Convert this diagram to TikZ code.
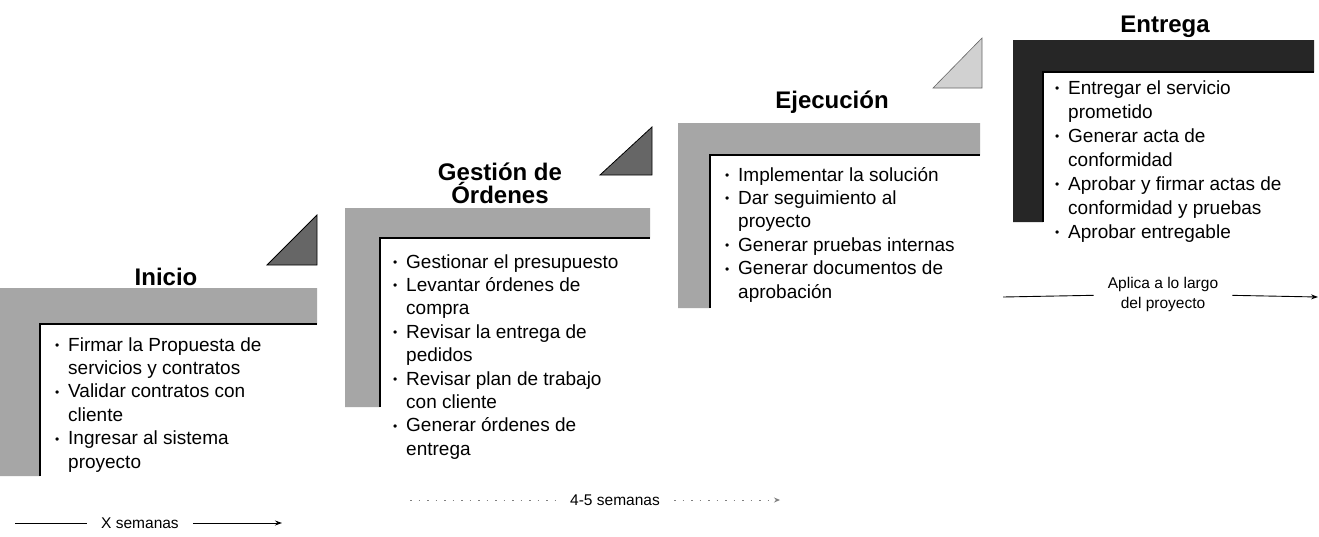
\documentclass[tikz,border=0pt]{standalone}
\usepackage{fontspec}
\setmainfont{Liberation Sans}
\usetikzlibrary{arrows.meta}
\newcommand\bu{\makebox[13pt][l]{\fontsize{12}{12}\selectfont\raisebox{1.5pt}{•}}}
\newcommand\cl{\hspace*{13pt}}
\newcommand\lst[1]{\parbox[t]{300pt}{\fontsize{19}{23.4}\selectfont\raggedright #1}}
\tikzset{
  bar/.style={fill=black!35, draw=none},
  darkbar/.style={fill=black!85, draw=none},
  inneredge/.style={draw=black, line width=1.6pt},
  tri/.style={fill=black!60, draw=black, line width=0.8pt},
  lighttri/.style={fill=black!18, draw=black!60, line width=0.6pt},
  title/.style={font=\fontsize{24}{24}\selectfont\bfseries, inner sep=0, anchor=base},
  list/.style={inner sep=0, anchor=base west},
  small/.style={font=\fontsize{15.5}{20}\selectfont, inner ysep=0, inner xsep=14pt},
  arr/.style={line width=0.9pt, -{Stealth[length=7pt,width=5pt]}},
}
\begin{document}
\begin{tikzpicture}[x=1pt,y=-1pt]
\useasboundingbox (0,0) rectangle (1319,536);
\fill[white] (0,0) rectangle (1319,536);

% ---- Inicio
\fill[bar] (0,288) -- (317,288) -- (317,324) -- (40,324) -- (40,476) -- (0,476) -- cycle;
\draw[inneredge] (317,324) -- (40,324) -- (40,476);
\filldraw[tri] (267,265) -- (317,265) -- (317,215) -- cycle;
\node[title] (t1) at (166,285) {Inicio};
\node[list] (l1) at (55,351) {\lst{\bu Firmar la Propuesta de\\ \cl servicios y contratos\\ \bu Validar contratos con\\ \cl cliente\\ \bu Ingresar al sistema\\ \cl proyecto}};

% ---- Gestion de Ordenes
\fill[bar] (345,208) -- (650,208) -- (650,238) -- (380,238) -- (380,407) -- (345,407) -- cycle;
\draw[inneredge] (650,238) -- (380,238) -- (380,407);
\filldraw[tri] (600,175) -- (652,175) -- (652,127) -- cycle;
\node[title] (t2) at (500,180) {\parbox[t]{220pt}{\centering\fontsize{24}{23}\selectfont\bfseries Gestión de\\Órdenes}};
\node[list] (l2) at (393,268) {\lst{\bu Gestionar el presupuesto\\ \bu Levantar órdenes de\\ \cl compra\\ \bu Revisar la entrega de\\ \cl pedidos\\ \bu Revisar plan de trabajo\\ \cl con cliente\\ \bu Generar órdenes de\\ \cl entrega}};

% ---- Ejecucion
\fill[bar] (678,123) -- (980,123) -- (980,155) -- (710,155) -- (710,308) -- (678,308) -- cycle;
\draw[inneredge] (980,155) -- (710,155) -- (710,308);
\filldraw[lighttri] (933,88) -- (982,88) -- (982,38) -- cycle;
\node[title] (t3) at (832,108) {Ejecución};
\node[list] (l3) at (725,181) {\lst{\bu Implementar la solución\\ \bu Dar seguimiento al\\ \cl proyecto\\ \bu Generar pruebas internas\\ \bu Generar documentos de\\ \cl aprobación}};

% ---- Entrega
\fill[darkbar] (1013,40) -- (1314,40) -- (1314,72) -- (1043,72) -- (1043,222) -- (1013,222) -- cycle;
\draw[inneredge] (1314,72) -- (1043,72) -- (1043,222);
\node[title] (t4) at (1165,32) {Entrega};
\node[list] (l4) at (1055,94) {\parbox[t]{300pt}{\fontsize{19}{24}\selectfont\raggedright \bu Entregar el servicio\\ \cl prometido\\ \bu Generar acta de\\ \cl conformidad\\ \bu Aprobar y firmar actas de\\ \cl conformidad y pruebas\\ \bu Aprobar entregable}};

% ---- time arrows
\node[small] (xs) at (140,523) {X semanas};
\coordinate (xa) at (15,523);
\coordinate (xb) at (282,523);
\draw[line width=0.9pt] (xa) -- (xs);
\draw[arr] (xs) -- (xb);

\node[small] (fs) at (615,500) {4-5 semanas};
\coordinate (fa) at (410,500);
\coordinate (fb) at (780,500);
\draw[black!50, line width=0.9pt, dash pattern=on 1.5pt off 7pt] (fa) -- (fs);
\draw[black!50, line width=0.9pt, dash pattern=on 1.5pt off 7pt, -{Stealth[length=6pt,width=5pt]}] (fs) -- (fb);

\node[small, align=center] (ap) at (1163,294) {Aplica a lo largo\\del proyecto};
\coordinate (aa) at (1003,297);
\coordinate (ab) at (1318,297);
\draw[line width=0.9pt] (aa) -- (ap);
\draw[arr] (ap) -- (ab);
\end{tikzpicture}
\end{document}
